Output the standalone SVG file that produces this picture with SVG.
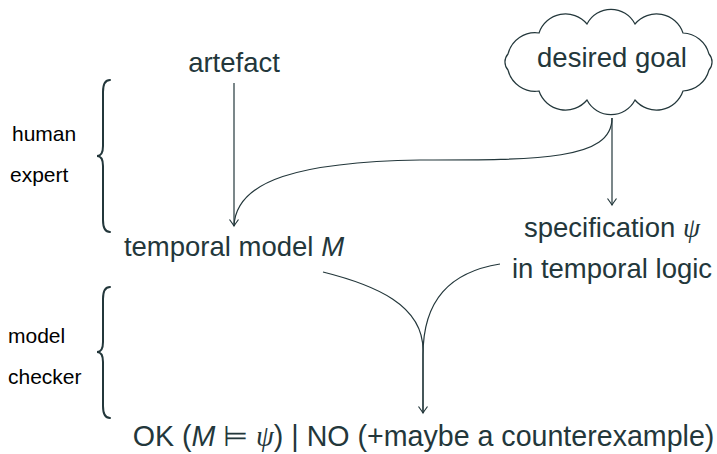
<svg xmlns="http://www.w3.org/2000/svg" width="717" height="454" viewBox="0 0 717 454">
<style>
.t{font-family:"Liberation Sans","DejaVu Sans",sans-serif;font-size:27.5px;fill:#23373b}
.b{font-size:28.6px}
.s{font-family:"Liberation Sans","DejaVu Sans",sans-serif;font-size:21px;fill:#000}
.m{font-style:italic}
.g{font-family:"Liberation Serif","DejaVu Serif",serif;font-style:italic}
.ln{fill:none;stroke:#23373b;stroke-width:1.2}
.br{fill:none;stroke:#23373b;stroke-width:2;stroke-linecap:round}
</style>
<defs>
<marker id="arr" markerUnits="userSpaceOnUse" viewBox="-8 -6 10 12" markerWidth="10" markerHeight="12" refX="0" refY="0" orient="auto">
<path d="M -6.5 -4.5 Q -2 -1.2 0 0 Q -2 1.2 -6.5 4.5" fill="none" stroke="#23373b" stroke-width="1.2"/>
</marker>
</defs>
<rect width="717" height="454" fill="#fff"/>
<g id="brace-human">
<path class="br" d="M 110 80 Q 103 80 103 92 L 103 146 Q 103 156 97 156 Q 103 156 103 166 L 103 220 Q 103 232 110 232"/>
<text class="s" x="12" y="141">human</text>
<text class="s" x="10" y="182">expert</text>
</g>
<g id="brace-checker">
<path class="br" d="M 110 287 Q 103 287 103 299 L 103 342 Q 103 352 97 352 Q 103 352 103 362 L 103 406 Q 103 418 110 418"/>
<text class="s" x="8" y="343">model</text>
<text class="s" x="8" y="384">checker</text>
</g>
<g id="artefact">
<text class="t" x="234" y="72" text-anchor="middle">artefact</text>
</g>
<g id="goal">
<path class="ln" d="M 508 54 A 28 28 0 0 1 539 33 A 28 28 0 0 1 587 24 A 27 27 0 0 1 635 24 A 28 28 0 0 1 683 33 A 28 28 0 0 1 709 54 A 12 12 0 0 1 709 70 A 28 28 0 0 1 683 91 A 28 28 0 0 1 635 100 A 27 27 0 0 1 587 100 A 28 28 0 0 1 539 91 A 28 28 0 0 1 508 70 A 12 12 0 0 1 508 54 Z"/>
<text class="t" x="612" y="67" text-anchor="middle">desired goal</text>
</g>
<g id="model">
<text class="t" x="234" y="256" text-anchor="middle">temporal model <tspan class="m">M</tspan></text>
</g>
<g id="spec">
<text class="t" x="612" y="237" text-anchor="middle">specification <tspan class="g">ψ</tspan></text>
<text class="t" x="612" y="278" text-anchor="middle">in temporal logic</text>
</g>
<g id="result">
<text class="t b" x="423.5" y="446" text-anchor="middle">OK (<tspan class="m">M</tspan> ⊨ <tspan class="g">ψ</tspan>) | NO (+maybe a counterexample)</text>
</g>
<g id="connectors">
<path class="ln" d="M 234 83 L 234 226" marker-end="url(#arr)"/>
<path class="ln" d="M 612 118 C 612 160 540 160 420 160 C 300 162 236 180 234 226"/>
<path class="ln" d="M 612 118 L 612 205" marker-end="url(#arr)"/>
<path class="ln" d="M 323 272 C 375 285 423 305 423 350 L 423 413" marker-end="url(#arr)"/>
<path class="ln" d="M 500 264 C 450 272 423 300 423 355 L 423 413"/>
</g>
</svg>
